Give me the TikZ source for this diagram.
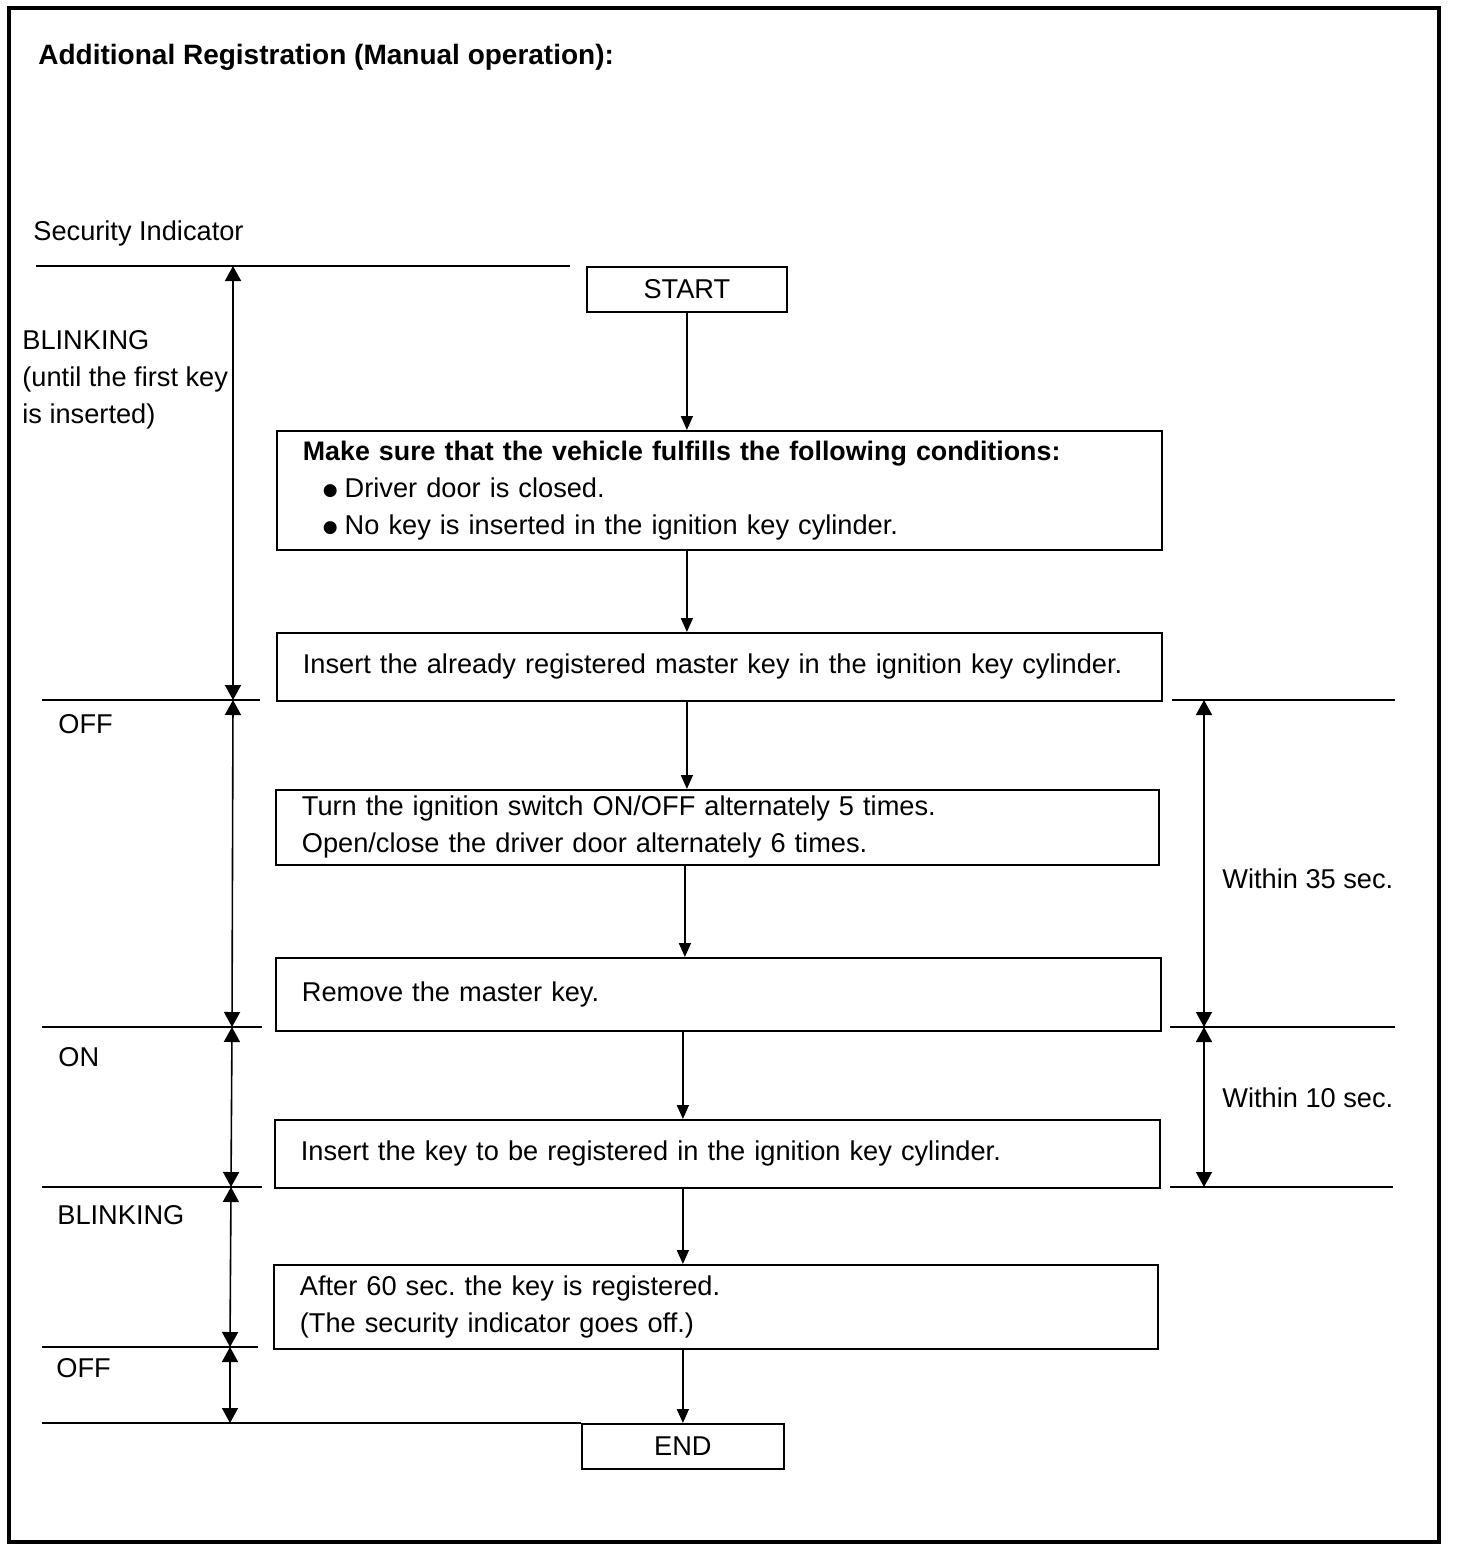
\documentclass[tikz,border=0pt]{standalone}
\usepackage{fontspec}
\setmainfont{Liberation Sans}
\newfontfamily\dejavu{DejaVu Sans}
\usetikzlibrary{arrows.meta}
\newcommand{\bul}{\raisebox{0.8pt}{\dejavu\fontsize{8.5}{8.5}\selectfont ●}\hspace{3.5pt}}
\frenchspacing
\begin{document}
\begin{tikzpicture}[x=0.5pt,y=-0.5pt,
  every node/.style={font=\fontsize{13.6}{18.5}\selectfont, inner sep=0pt},
  box/.style={draw, line width=0.9pt, anchor=north west},
  tbox/.style={box, inner xsep=13pt, align=left},
  cbox/.style={box, align=center},
  lbl/.style={anchor=west, align=left},
  flow/.style={line width=0.8pt, -{Triangle[width=6pt,length=7pt]}},
  dim/.style={line width=0.8pt, {Triangle[width=8pt,length=7.5pt]}-{Triangle[width=8pt,length=7.5pt]}},
  level/.style={line width=0.7pt}
]
\useasboundingbox (0,0) rectangle (1456,1552);
\draw[line width=1.6pt] (9,8) rectangle (1439,1542);

\node[lbl, font=\fontsize{14}{18}\selectfont\bfseries] (title) at (38,57) {Additional Registration (Manual operation):};
\node[lbl] (si) at (33,233) {Security Indicator};

% flow boxes
\node[cbox, minimum width=100pt, minimum height=22.5pt] (start) at (586,266) {START};
\node[tbox, text width=416.5pt, minimum height=59.5pt] (b1) at (276,430)
  {{\fontsize{13.4}{18.5}\selectfont\bfseries Make sure that the vehicle fulfills the following conditions:}\\
   \hspace{10pt}\bul Driver door is closed.\\
   \hspace{10pt}\bul No key is inserted in the ignition key cylinder.};
\node[tbox, text width=416.5pt, minimum height=34pt] (b2) at (276,632)
  {Insert the already registered master key in the ignition key cylinder.};
\node[tbox, text width=415.5pt, minimum height=37.5pt] (b3) at (275,789)
  {Turn the ignition switch ON/OFF alternately 5 times.\\
   Open/close the driver door alternately 6 times.};
\node[tbox, text width=416.5pt, minimum height=36.5pt] (b4) at (275,957)
  {Remove the master key.};
\node[tbox, text width=416.5pt, minimum height=34pt] (b5) at (274,1119)
  {Insert the key to be registered in the ignition key cylinder.};
\node[tbox, text width=416pt, minimum height=42pt] (b6) at (273,1264)
  {After 60 sec. the key is registered.\\
   (The security indicator goes off.)};
\node[cbox, minimum width=101pt, minimum height=22.5pt] (end) at (581,1423) {END};

% flow arrows
\draw[flow] (start.south) -- (start.south |- b1.north);
\draw[flow] (start.south |- b1.south) -- (start.south |- b2.north);
\draw[flow] (start.south |- b2.south) -- (start.south |- b3.north);
\draw[flow] ([xshift=-1pt]start.south |- b3.south) -- ([xshift=-1pt]start.south |- b4.north);
\draw[flow] (end.north |- b4.south) -- (end.north |- b5.north);
\draw[flow] (end.north |- b5.south) -- (end.north |- b6.north);
\draw[flow] (end.north |- b6.south) -- (end.north);

% level lines
\coordinate (L0) at (233,266);
\coordinate (L1) at (233,700);
\coordinate (L2) at (232,1027);
\coordinate (L3) at (231,1187);
\coordinate (L4) at (230,1347);
\coordinate (L5) at (230,1423);
\coordinate (R1) at (1204,700);
\coordinate (R2) at (1204,1027);
\coordinate (R3) at (1204,1187);

\draw[level] (36,266) -- (570,266);
\draw[level] (42,700) -- (260,700);
\draw[level] (1172,700) -- (1395,700);
\draw[level] (42,1027) -- (262,1027);
\draw[level] (1170,1027) -- (1395,1027);
\draw[level] (42,1187) -- (262,1187);
\draw[level] (1170,1187) -- (1393,1187);
\draw[level] (42,1347) -- (258,1347);
\draw[level] (end.north west) -- ++(-539,0);

% dimension arrows
\draw[dim] (L0) -- (L1);
\draw[dim] (L1) -- (L2);
\draw[dim] (L2) -- (L3);
\draw[dim] (L3) -- (L4);
\draw[dim] (L4) -- (L5);
\draw[dim] (R1) -- (R2);
\draw[dim] (R2) -- (R3);

% indicator labels
\node[lbl] (blink1) at (22,380) {BLINKING\\(until the first key\\is inserted)};
\node[lbl] (off1) at (58,724) {OFF};
\node[lbl] (on1) at (58,1057) {ON};
\node[lbl] (blink2) at (57,1215) {BLINKING};
\node[lbl] (off2) at (56,1368) {OFF};
\node[lbl] (w35) at (1222,879) {Within 35 sec.};
\node[lbl] (w10) at (1222,1098) {Within 10 sec.};
\end{tikzpicture}
\end{document}
